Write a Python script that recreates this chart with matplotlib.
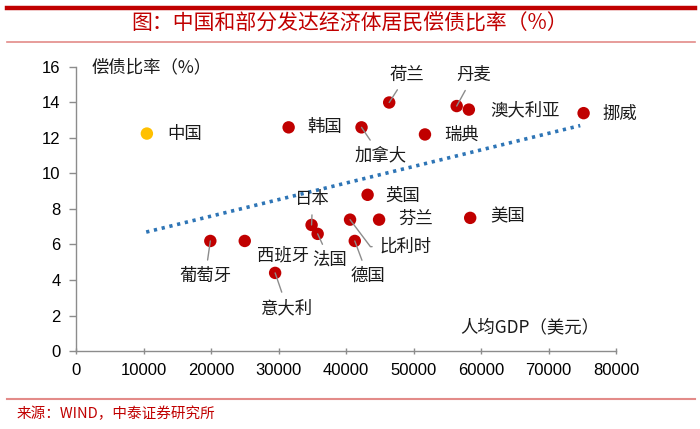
import matplotlib
matplotlib.use("Agg")
import matplotlib.pyplot as plt
from matplotlib.lines import Line2D

plt.rcParams["font.family"] = ["Noto Sans CJK SC", "DejaVu Sans"]

# --- dados ---
paises = ["中国", "韩国", "加拿大", "荷兰", "丹麦", "澳大利亚", "挪威", "瑞典", "英国",
          "芬兰", "比利时", "美国", "德国", "日本", "法国", "葡萄牙", "西班牙", "意大利"]
gdp_pc = [10500, 31500, 42300, 46400, 56400, 58200, 75200, 51700, 43200,
          44900, 40600, 58400, 41300, 34900, 35800, 19900, 25000, 29500]
ratio = [12.25, 12.6, 12.6, 14.0, 13.8, 13.6, 13.4, 12.2, 8.8,
         7.4, 7.4, 7.5, 6.2, 7.1, 6.6, 6.2, 6.2, 4.4]

# linha de tendência (extremos)
trend_x = [10400, 74700]
trend_y = [6.7, 12.7]

x_ticks = [0, 10000, 20000, 30000, 40000, 50000, 60000, 70000, 80000]
y_ticks = [0, 2, 4, 6, 8, 10, 12, 14, 16]

# posição do rótulo em pixels em relação ao ponto: (dx, dy, ha, linha guia)
rotulos = {
    "中国": (20, 0, "left", None),
    "韩国": (19, 0, "left", None),
    "加拿大": (19, -28, "center", "straight"),
    "荷兰": (18, 28, "center", "straight"),
    "丹麦": (17, 31, "center", "straight"),
    "澳大利亚": (21, -1, "left", None),
    "挪威": (19, -1, "left", None),
    "瑞典": (19, 0, "left", None),
    "英国": (18, -1, "left", None),
    "芬兰": (19, 1, "left", None),
    "比利时": (29, -27, "left", "elbow"),
    "美国": (20, 1, "left", None),
    "德国": (13, -35, "center", "straight"),
    "日本": (1, 26, "center", "straight"),
    "法国": (12, -26, "center", "straight"),
    "葡萄牙": (-5, -35, "center", "straight"),
    "西班牙": (38, -14, "center", None),
    "意大利": (12, -35, "center", "straight"),
}

vermelho = "#C00000"
rosa = "#E38B89"
cinza = "#8C8C8C"

fig = plt.figure(figsize=(7, 4.29), dpi=100)

# faixas do cabeçalho e rodapé
fig.add_artist(Line2D([0.01, 0.993], [1 - 8 / 429, 1 - 8 / 429], color=vermelho, lw=3.2))
fig.add_artist(Line2D([0.01, 0.993], [1 - 42 / 429, 1 - 42 / 429], color=rosa, lw=1.2))
fig.add_artist(Line2D([0.01, 0.993], [1 - 399 / 429, 1 - 399 / 429], color=rosa, lw=1.5))
fig.text(0.5, 1 - 24 / 429, "图：中国和部分发达经济体居民偿债比率（%）", color=vermelho,
         fontsize=15, ha="center", va="center", fontweight="medium")
fig.text(17 / 700, 1 - 414 / 429, "来源：WIND，中泰证券研究所", color=vermelho,
         fontsize=10.5, ha="left", va="center")

ax = fig.add_axes([76 / 700, 78 / 429, 540 / 700, 284 / 429])

cores = ["#FFC000" if p == "中国" else vermelho for p in paises]
ax.scatter(gdp_pc, ratio, s=80, c=cores, edgecolors="none", zorder=3)
ax.plot(trend_x, trend_y, color="#2E75B6", lw=2.6, linestyle=(0, (0.9, 1.3)), zorder=2)

for p, x, y in zip(paises, gdp_pc, ratio):
    dx, dy, ha, guia = rotulos[p]
    arrow = None
    if guia == "straight":
        arrow = dict(arrowstyle="-", color=cinza, lw=1, shrinkA=3, shrinkB=0)
    elif guia == "elbow":
        arrow = dict(arrowstyle="-", color=cinza, lw=1, shrinkA=3, shrinkB=0,
                     connectionstyle="angle,angleA=0,angleB=127,rad=0")
    ax.annotate(p, (x, y), xytext=(dx, dy), textcoords="offset pixels",
                ha=ha, va="center", fontsize=12.5, color="#1a1a1a",
                arrowprops=arrow, zorder=4)

ax.text(0.028, 16, "偿债比率（%）", transform=ax.get_yaxis_transform(),
        fontsize=12.5, ha="left", va="center", color="#1a1a1a")
ax.text(77500, 1.35, "人均GDP（美元）", fontsize=12.5, ha="right", va="center", color="#1a1a1a")

ax.set_xlim(0, 80000)
ax.set_ylim(0, 16)
ax.set_xticks(x_ticks)
ax.set_yticks(y_ticks)
ax.set_xticklabels([str(v) for v in x_ticks], fontfamily="Liberation Sans", fontsize=12)
ax.set_yticklabels([str(v) for v in y_ticks], fontfamily="Liberation Sans", fontsize=12)
ax.tick_params(axis="y", direction="out", length=5, color=cinza, width=1, pad=6)
ax.tick_params(axis="x", direction="inout", length=5, color=cinza, width=1, pad=6)

for lado in ["top", "right"]:
    ax.spines[lado].set_visible(False)
for lado in ["left", "bottom"]:
    ax.spines[lado].set_color(cinza)
    ax.spines[lado].set_linewidth(1)
ax.patch.set_alpha(0)

fig.savefig("out.png", dpi=100)
